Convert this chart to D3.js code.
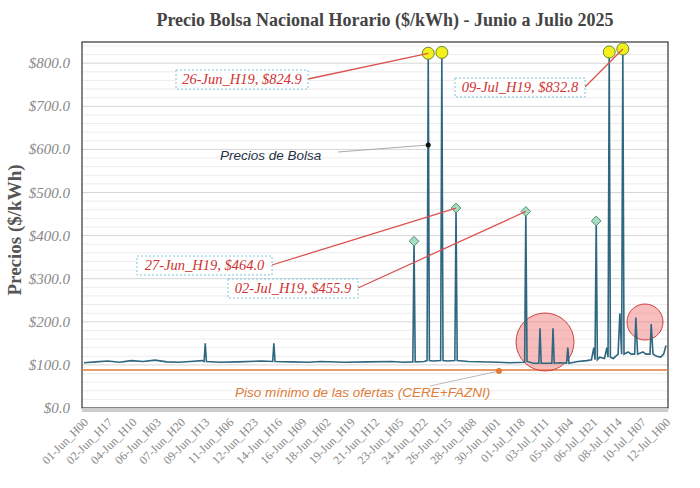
<!DOCTYPE html>
<html><head><meta charset="utf-8">
<script src="https://cdn.jsdelivr.net/npm/d3@7"></script>
<style>body{margin:0;background:#fff}</style>
</head><body>
<svg id="chart" width="700" height="488"></svg>
<script>
// x ticks, one every 41 hours
var tickLabels = ["01-Jun_H00","02-Jun_H17","04-Jun_H10","06-Jun_H03","07-Jun_H20","09-Jun_H13","11-Jun_H06","12-Jun_H23","14-Jun_H16","16-Jun_H09","18-Jun_H02","19-Jun_H19","21-Jun_H12","23-Jun_H05","24-Jun_H22","26-Jun_H15","28-Jun_H08","30-Jun_H01","01-Jul_H18","03-Jul_H11","05-Jul_H04","06-Jul_H21","08-Jul_H14","10-Jul_H07","12-Jul_H00"];
var yTicks = [0,100,200,300,400,500,600,700,800];

// hour index and price
var priceHours = [0,20,40,60,80,100,120,140,160,180,200,203,205,207,230,260,300,319,321,323,350,380,400,440,480,520,540,556,558,560,
  575,580,582,584,590,603,605,607,615,627,629,631,650,700,720,745,747,749,760,
  769,771,773,780,791,793,795,805,816,818,820,835,850,858,862,864,866,868,872,
  880,884,886,888,890,895,903,906,909,911,913,920,925,931,933,936,945,950,957,959,962,968,975,980,984];
var priceVals = [105,107,109,106,110,108,111,107,106,108,110,108,150,108,106,107,109,108,150,108,107,106,108,106,107,108,106,107,387,107,
  108,110,823,110,109,110,825,110,109,110,464,110,108,106,105,106,456,108,104,
  104,185,104,104,104,185,104,105,104,140,104,108,110,112,140,112,434,112,118,
  115,140,118,826,118,115,125,220,125,833,125,130,125,125,210,125,130,125,125,195,125,120,118,125,145,145];

var highlights = [[558,387,"d"],[582,823,"y"],[605,825,"y"],[629,464,"d"],[747,456,"d"],[866,434,"d"],[888,826,"y"],[911,833,"y"]];
var pisoValue = 88;

var svg = d3.select("#chart");
var m = {l:82, r:668, t:42, b:408};
var x = d3.scaleLinear().domain([0,984]).range([m.l+2, m.r-2]);
var y = d3.scaleLinear().domain([0,850]).range([m.b, m.b-850*0.431]);

// title
svg.append("text").attr("x",385).attr("y",26).attr("text-anchor","middle")
  .attr("font-family","Liberation Serif").attr("font-weight","bold").attr("font-size",18).attr("fill","#444")
  .text("Precio Bolsa Nacional Horario ($/kWh) - Junio a Julio 2025");

// gridlines every 20
for (var v = 20; v <= 840; v += 20) {
  svg.append("line").attr("x1",m.l).attr("x2",m.r).attr("y1",y(v)).attr("y2",y(v))
    .attr("stroke", v % 100 === 0 ? "#d6d6d6" : "#ececec").attr("stroke-width",1);
}
svg.append("rect").attr("x",m.l).attr("y",m.t).attr("width",m.r-m.l).attr("height",m.b-m.t)
  .attr("fill","none").attr("stroke","#333").attr("stroke-width",1.2);
svg.append("line").attr("x1",m.l).attr("x2",m.r).attr("y1",m.b+2).attr("y2",m.b+2).attr("stroke","#ccc").attr("stroke-width",4);

// y axis labels
svg.selectAll(".yl").data(yTicks).enter().append("text")
  .attr("x",70).attr("y",d => y(d)+5).attr("text-anchor","end")
  .attr("font-family","Liberation Serif").attr("font-style","italic").attr("font-size",15).attr("fill","#888")
  .text(d => "$" + d.toFixed(1));
svg.append("text").attr("transform","translate(21,230) rotate(-90)").attr("text-anchor","middle")
  .attr("font-family","Liberation Serif").attr("font-weight","bold").attr("font-size",19).attr("fill","#555")
  .text("Precios ($/kWh)");

// x labels
svg.selectAll(".xl").data(tickLabels).enter().append("text")
  .attr("transform",(d,i) => "translate(" + (x(i*41)+5) + "," + (m.b+15) + ") rotate(-45)")
  .attr("text-anchor","end").attr("font-family","Liberation Serif").attr("font-size",12).attr("fill","#888")
  .text(d => d);

// piso line
svg.append("line").attr("x1",m.l).attr("x2",m.r).attr("y1",y(pisoValue)).attr("y2",y(pisoValue))
  .attr("stroke","#e07b39").attr("stroke-width",1.5);

// red circles
svg.append("circle").attr("cx",545).attr("cy",342).attr("r",29).attr("fill","rgba(240,110,110,0.45)").attr("stroke","#d04040");
svg.append("circle").attr("cx",645).attr("cy",322).attr("r",18).attr("fill","rgba(240,110,110,0.45)").attr("stroke","#d04040");

// price line
var pts = priceHours.map((h,i) => [h, priceVals[i]]);
svg.append("path").datum(pts)
  .attr("d", d3.line().x(d => x(d[0])).y(d => y(d[1])))
  .attr("fill","none").attr("stroke","#2f6680").attr("stroke-width",1.6);

// markers
highlights.forEach(function (d) {
  if (d[2] === "y") {
    svg.append("circle").attr("cx",x(d[0])).attr("cy",y(d[1])).attr("r",6)
      .attr("fill","#f5ef1a").attr("stroke","#6b8a30").attr("stroke-width",1);
  } else {
    svg.append("path").attr("transform","translate(" + x(d[0]) + "," + y(d[1]) + ")")
      .attr("d", d3.symbol(d3.symbolDiamond2, 60)).attr("fill","#a8dcc0").attr("stroke","#4b9070");
  }
});

// annotations
function callout(txt, bx, by, bw, tx, ty) {
  svg.append("line").attr("x1",bx+bw).attr("y1",by+9).attr("x2",tx).attr("y2",ty).attr("stroke","#d9534f").attr("stroke-width",1.3);
  svg.append("rect").attr("x",bx).attr("y",by).attr("width",bw).attr("height",19)
    .attr("fill","#fff").attr("stroke","#7fc6dc").attr("stroke-dasharray","2,2");
  svg.append("text").attr("x",bx+bw/2).attr("y",by+14).attr("text-anchor","middle")
    .attr("font-family","Liberation Serif").attr("font-style","italic").attr("font-size",14.5).attr("fill","#d0302f")
    .text(txt);
}
callout("26-Jun_H19, $824.9", 176, 70, 132, x(582), y(823));
callout("09-Jul_H19, $832.8", 455, 78, 130, x(911), y(833));
callout("27-Jun_H19, $464.0", 137, 256, 135, x(629), y(464));
callout("02-Jul_H19, $455.9", 228, 279, 130, x(747), y(456));

svg.append("line").attr("x1",338).attr("y1",152).attr("x2",x(582)).attr("y2",145).attr("stroke","#aaa");
svg.append("circle").attr("cx",x(582)).attr("cy",145).attr("r",2.5).attr("fill","#111");
svg.append("text").attr("x",220).attr("y",160).attr("font-family","Liberation Sans").attr("font-style","italic")
  .attr("font-size",13.5).attr("fill","#1f3347").text("Precios de Bolsa");

svg.append("line").attr("x1",430).attr("y1",386).attr("x2",499).attr("y2",371).attr("stroke","#bbb");
svg.append("circle").attr("cx",499).attr("cy",371).attr("r",3).attr("fill","#e07b39");
svg.append("text").attr("x",235).attr("y",397).attr("font-family","Liberation Sans").attr("font-style","italic")
  .attr("font-size",13.5).attr("fill","#e07b39").text("Piso mínimo de las ofertas (CERE+FAZNI)");
</script>
</body></html>
